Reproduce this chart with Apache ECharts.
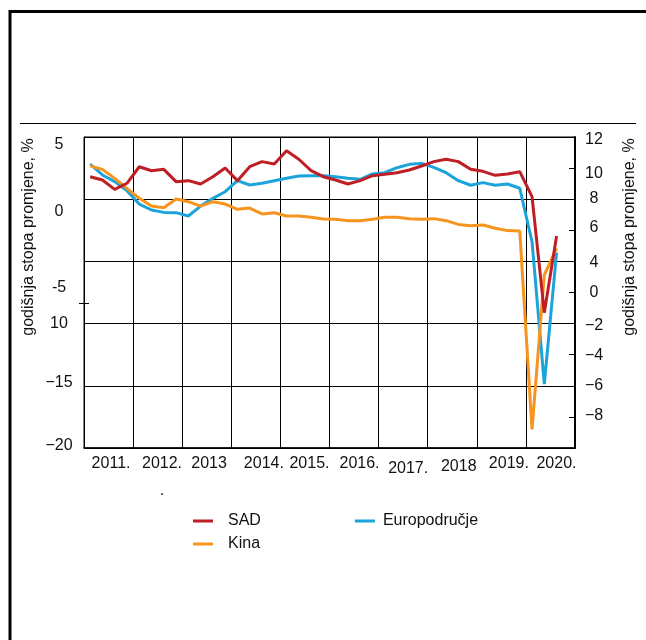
<!DOCTYPE html>
<html><head><meta charset="utf-8">
<script src="https://cdn.jsdelivr.net/npm/echarts@6/dist/echarts.min.js"></script>
<style>html,body{margin:0;padding:0;background:#fff}#c{width:646px;height:640px}</style>
</head><body><div id="c"></div>
<script>
// ---- data ----
const years = ['2011.','2012.','2013','2014.','2015.','2016.','2017.','2018','2019.','2020.'];
const quarters = ['2011Q1','2011Q2','2011Q3','2011Q4','2012Q1','2012Q2','2012Q3','2012Q4',
  '2013Q1','2013Q2','2013Q3','2013Q4','2014Q1','2014Q2','2014Q3','2014Q4',
  '2015Q1','2015Q2','2015Q3','2015Q4','2016Q1','2016Q2','2016Q3','2016Q4',
  '2017Q1','2017Q2','2017Q3','2017Q4','2018Q1','2018Q2','2018Q3','2018Q4',
  '2019Q1','2019Q2','2019Q3','2019Q4','2020Q1','2020Q2','2020Q3','2020Q4'];
const sad = [1.81,1.54,0.79,1.28, 2.61,2.29,2.40,1.41, 1.49,1.22,1.81,2.51, 1.49,2.61,3.02,2.83,
  3.90,3.21,2.29,1.81, 1.54,1.22,1.49,1.89, 2.00,2.13,2.35,2.67, 3.02,3.21,3.02,2.40,
  2.24,1.92,2.03,2.21, 0.20,-9.12,-2.96];
const europodrucje = [2.83,1.95,1.41,0.69, -0.39,-0.87,-1.06,-1.08, -1.35,-0.55,0.07,0.60, 1.49,1.14,1.28,1.49,
  1.68,1.86,1.89,1.89, 1.81,1.68,1.60,2.03, 2.13,2.53,2.80,2.88, 2.56,2.13,1.49,1.12,
  1.33,1.12,1.22,0.88, -3.42,-14.86,-4.30];
const kina = [10.14,9.92,9.34,8.70, 8.06,7.56,7.45,8.01, 7.84,7.56,7.84,7.69, 7.35,7.43,7.05,7.13,
  6.92,6.92,6.84,6.73, 6.71,6.62,6.62,6.71, 6.84,6.84,6.75,6.71, 6.75,6.62,6.38,6.30,
  6.34,6.13,5.98,5.95, -6.8,3.13,4.84];
const leftTickValues = [5,0,-5,-10,-15,-20];
const leftTickLabels = ['5','0','-5','10','\u221215','\u221220'];
const rightTickValues = [12,10,8,6,4,2,0,-2,-4,-6,-8];
const rightTickLabels = ['12','10','8','6','4','0','\u22122','\u22124','\u22126','\u22128',''];
const yName = 'godišnja stopa promjene, %';

// ---- styles (label nudges, px) ----
const xLabelDx = [2.5,4.4,2.3,8,4.5,5.5,5,6.5,7.5,6];
const xLabelDy = [0,0,0,0,0,0,5,3,0,0];
const leftLabelDy = [8,12,26,-0.5,-3,-2];
const rightLabelDy = [3,5,-1,-3,1.5,0.5,2.4,1.3,0,-1,0];
const FONT = 'Liberation Sans, Arial, sans-serif';
const C_RED = '#BE1E24', C_BLUE = '#1BA3DC', C_ORANGE = '#F7941D';

function vpad(dy){ return dy >= 0 ? [2*dy,0,0,0] : [0,0,-2*dy,0]; }
const xRich = {}; years.forEach((y,i)=>{ xRich['x'+i] = {fontSize:16, fontFamily:FONT, color:'#111', padding:[xLabelDy[i],0,0,2*xLabelDx[i]]}; });
const lRich = {}; leftTickValues.forEach((v,i)=>{ lRich['l'+i] = {fontSize:16, fontFamily:FONT, color:'#111', padding:vpad(leftLabelDy[i])}; });
const rRich = {}; rightTickValues.forEach((v,i)=>{ rRich['r'+i] = {fontSize:16, fontFamily:FONT, color:'#111', padding:vpad(rightLabelDy[i])}; });

const chart = echarts.init(document.getElementById('c'), null, {renderer:'canvas'});
chart.setOption({
  animation:false,
  backgroundColor:'#fff',
  textStyle:{fontFamily:FONT},
  grid:{left:84, top:137, width:491, height:311, show:true, borderColor:'#000', borderWidth:1, outerBoundsMode:'none'},
  legend:[
    {data:[{name:'SAD'}, {name:'Europodručje', textStyle:{padding:[0,0,0,3]}}], left:193, top:513, padding:0, icon:'rect', itemWidth:20, itemHeight:3, itemGap:94,
     textStyle:{fontSize:16, fontFamily:FONT, color:'#111', padding:[0,0,0,10]}},
    {data:['Kina'], left:193, top:536, padding:0, icon:'rect', itemWidth:20, itemHeight:3,
     textStyle:{fontSize:16, fontFamily:FONT, color:'#111', padding:[0,0,0,10]}}
  ],
  xAxis:[
    {type:'category', data:years, boundaryGap:true, position:'bottom',
     axisLine:{show:true, onZero:false, lineStyle:{color:'#000', width:1.5}},
     axisTick:{show:false},
     splitLine:{show:true, lineStyle:{color:'#000', width:1}},
     axisLabel:{interval:0, margin:8, formatter:(v,i)=>'{x'+i+'|'+v+'}', rich:xRich}},
    {type:'category', data:quarters, boundaryGap:true, show:false, axisLine:{onZero:false}}
  ],
  yAxis:[
    {type:'value', min:-20, max:5, interval:5, position:'left',
     axisLine:{show:true, onZero:false, lineStyle:{color:'#000', width:1}},
     axisTick:{show:false},
     splitLine:{show:true, lineStyle:{color:'#000', width:1}},
     axisLabel:{align:'center', margin:25, formatter:(v)=>{const i=leftTickValues.indexOf(v); return i<0?'':'{l'+i+'|'+leftTickLabels[i]+'}';}, rich:lRich}},
    {type:'value', min:-8, max:12, interval:2, position:'right',
     axisLine:{show:true, onZero:false, lineStyle:{color:'#000', width:2}},
     axisTick:{show:true, inside:true, length:6, lineStyle:{color:'#000', width:1}},
     splitLine:{show:false},
     axisLabel:{align:'center', margin:19, formatter:(v)=>{const i=rightTickValues.indexOf(v); return (i<0||rightTickLabels[i]==='')?'':'{r'+i+'|'+rightTickLabels[i]+'}';}, rich:rRich}}
  ],
  series:[
    {name:'Europodručje', type:'line', xAxisIndex:1, yAxisIndex:0, data:europodrucje, symbol:'none', lineStyle:{color:C_BLUE, width:3}, itemStyle:{color:C_BLUE}},
    {name:'Kina', type:'line', xAxisIndex:1, yAxisIndex:1, data:kina, symbol:'none', lineStyle:{color:C_ORANGE, width:3}, itemStyle:{color:C_ORANGE}},
    {name:'SAD', type:'line', xAxisIndex:1, yAxisIndex:0, data:sad, symbol:'none', lineStyle:{color:C_RED, width:3}, itemStyle:{color:C_RED}}
  ],
  graphic:[
    {type:'rect', silent:true, shape:{x:10, y:11.5, width:700, height:700}, style:{fill:'none', stroke:'#000', lineWidth:3}},
    {type:'line', silent:true, shape:{x1:20, y1:123.5, x2:636, y2:123.5}, style:{stroke:'#000', lineWidth:1}},
    {type:'line', silent:true, shape:{x1:79, y1:303.5, x2:89, y2:303.5}, style:{stroke:'#000', lineWidth:1}},
    {type:'text', silent:true, x:162, y:491, style:{text:'.', font:'16px '+FONT, fill:'#111', textAlign:'center', textVerticalAlign:'middle'}},
    {type:'text', silent:true, x:29, y:237, rotation:Math.PI/2, style:{text:yName, font:'16px '+FONT, fill:'#111', textAlign:'center', textVerticalAlign:'middle'}},
    {type:'text', silent:true, x:630, y:237, rotation:Math.PI/2, style:{text:yName, font:'16px '+FONT, fill:'#111', textAlign:'center', textVerticalAlign:'middle'}}
  ]
});
</script></body></html>
